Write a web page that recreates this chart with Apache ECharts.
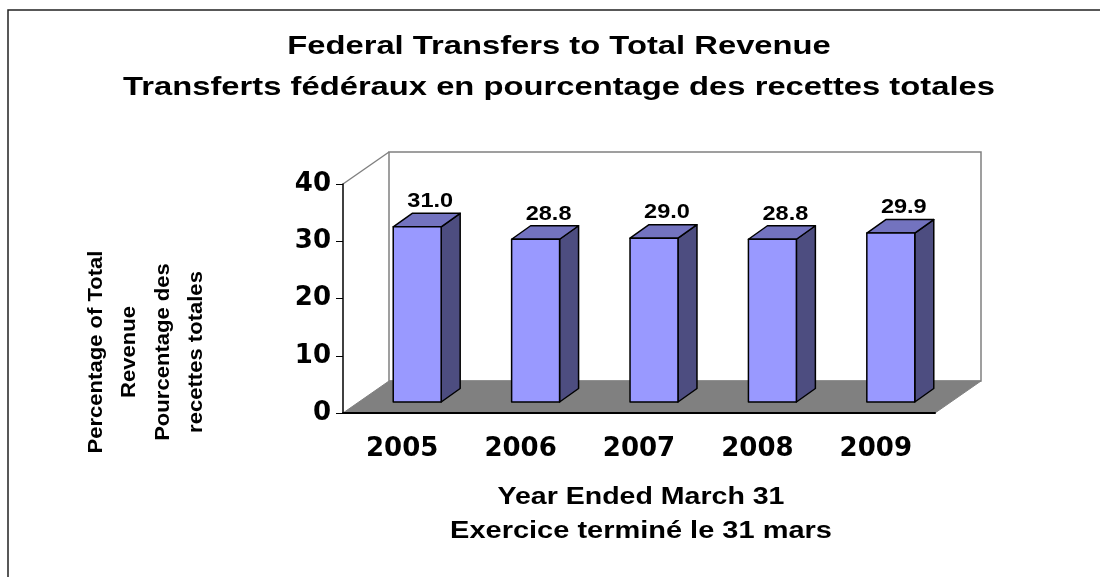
<!DOCTYPE html>
<html>
<head>
<meta charset="utf-8">
<style>
  html, body { margin: 0; padding: 0; background: #ffffff; }
  #chart { width: 1100px; height: 577px; }
</style>
<script src="https://cdn.jsdelivr.net/npm/echarts@6/dist/echarts.min.js"></script>
</head>
<body>
<div id="chart"></div>
<script>
// data
const years = ["2005", "2006", "2007", "2008", "2009"];
const transferShare = [31.0, 28.8, 29.0, 28.8, 29.9];
const yMin = 0;
const yMax = 40;
const yStep = 10;

const titleLines = [
  "Federal Transfers to Total Revenue",
  "Transferts fédéraux en pourcentage des recettes totales",
];
const xTitleLines = ["Year Ended March 31", "Exercice terminé le 31 mars"];
const yTitleLines = [
  "Percentage of Total",
  "Revenue",
  "Pourcentage des",
  "recettes totales",
];

// 3d look
const WALL_DX = 46;
const WALL_DY = -32;
const BAR_SHIFT_X = 15;
const BAR_SHIFT_Y = -11;
const BAR_DX = 19;
const BAR_DY = -13.5;
const BAR_SCALE = 0.987;
const FONT = "'Liberation Sans', Arial, sans-serif";

function renderFrame(params, api) {
  const cs = params.coordSys;
  const x0 = cs.x;
  const x1 = cs.x + cs.width;
  const yTop = cs.y;
  const yBot = cs.y + cs.height;
  return {
    type: "group",
    children: [
      {
        type: "polygon",
        shape: {
          points: [
            [x0 + WALL_DX, yTop + WALL_DY],
            [x1 + WALL_DX, yTop + WALL_DY],
            [x1 + WALL_DX, yBot + WALL_DY],
            [x0 + WALL_DX, yBot + WALL_DY],
          ],
        },
        style: { fill: "#ffffff", stroke: "#808080", lineWidth: 1.5 },
      },
      {
        type: "polygon",
        shape: {
          points: [
            [x0, yBot],
            [x1, yBot],
            [x1 + WALL_DX, yBot + WALL_DY],
            [x0 + WALL_DX, yBot + WALL_DY],
          ],
        },
        style: { fill: "#808080", stroke: "#808080", lineWidth: 1 },
      },
      {
        type: "line",
        shape: { x1: x0, y1: yTop, x2: x0 + WALL_DX, y2: yTop + WALL_DY },
        style: { stroke: "#808080", lineWidth: 1.5, fill: "none" },
      },
    ],
  };
}

function renderBar(params, api) {
  const idx = api.value(0);
  const val = api.value(1);
  const base = api.coord([idx, 0]);
  const top = api.coord([idx, val]);
  const band = api.size([1, 0])[0];
  const w = band * 0.405;
  const h = (base[1] - top[1]) * BAR_SCALE;
  const fx = base[0] + BAR_SHIFT_X - w / 2;
  const fy = base[1] + BAR_SHIFT_Y;
  const edge = { stroke: "#000000", lineWidth: 1.5, lineJoin: "round" };
  return {
    type: "group",
    children: [
      {
        type: "polygon",
        shape: {
          points: [
            [fx + w, fy],
            [fx + w + BAR_DX, fy + BAR_DY],
            [fx + w + BAR_DX, fy - h + BAR_DY],
            [fx + w, fy - h],
          ],
        },
        style: Object.assign({ fill: "#4d4d80" }, edge),
      },
      {
        type: "polygon",
        shape: {
          points: [
            [fx, fy - h],
            [fx + BAR_DX, fy - h + BAR_DY],
            [fx + w + BAR_DX, fy - h + BAR_DY],
            [fx + w, fy - h],
          ],
        },
        style: Object.assign({ fill: "#7373bf" }, edge),
      },
      {
        type: "rect",
        shape: { x: fx, y: fy - h, width: w, height: h },
        style: Object.assign({ fill: "#9999ff" }, edge),
      },
      {
        type: "text",
        x: fx + w / 2 + 13,
        y: fy - h + BAR_DY - 12,
        scaleX: 1.12,
        style: {
          text: val.toFixed(1),
          fontSize: 21,
          fontWeight: "bold",
          fontFamily: FONT,
          fill: "#000000",
          align: "center",
          verticalAlign: "middle",
          textAlign: "center",
          textVerticalAlign: "middle",
        },
      },
    ],
  };
}

function textEl(str, x, y, size, scaleX, rotation) {
  return {
    type: "text",
    x: x,
    y: y,
    rotation: rotation || 0,
    scaleX: scaleX,
    style: {
      text: str,
      fontSize: size,
      fontWeight: "bold",
      fontFamily: FONT,
      fill: "#000000",
      align: "center",
      verticalAlign: "middle",
      textAlign: "center",
      textVerticalAlign: "middle",
      lineHeight: 33.5,
    },
  };
}

const chart = echarts.init(document.getElementById("chart"));

const option = {
  animation: false,
  backgroundColor: "#ffffff",
  grid: { left: 343, right: 165, top: 184, bottom: 164 },
  xAxis: {
    type: "category",
    data: years,
    z: 5,
    axisLine: { lineStyle: { color: "#000000", width: 2 } },
    axisTick: { length: 6, lineStyle: { color: "#000000", width: 1 } },
    axisLabel: {
      margin: 23,
      color: "#000000",
      fontSize: 26,
      fontWeight: "bold",
      fontFamily: "DejaVu Sans",
    },
  },
  yAxis: {
    type: "value",
    min: yMin,
    max: yMax,
    interval: yStep,
    z: 5,
    splitLine: { show: false },
    axisLine: { show: true, lineStyle: { color: "#000000", width: 1.5 } },
    axisTick: { show: true, length: 7, lineStyle: { color: "#000000", width: 1 } },
    axisLabel: {
      margin: 12,
      color: "#000000",
      fontSize: 26,
      fontWeight: "bold",
      fontFamily: "DejaVu Sans",
    },
  },
  graphic: [
    {
      type: "polyline",
      shape: { points: [[8, 600], [8, 10], [1120, 10]] },
      style: { stroke: "#222222", lineWidth: 1.5, fill: "none" },
    },
    textEl(titleLines[0], 559, 47, 25, 1.31),
    textEl(titleLines[1], 559, 88.5, 25, 1.31),
    textEl(xTitleLines[0], 641, 497.5, 23, 1.24),
    textEl(xTitleLines[1], 641, 532, 23, 1.26),
    textEl(yTitleLines.join("\n"), 146, 352, 21, 1.05, Math.PI / 2),
  ],
  series: [
    {
      type: "custom",
      name: "frame",
      z: 1,
      silent: true,
      renderItem: renderFrame,
      data: [[0, 0]],
    },
    {
      type: "custom",
      name: "Transfers",
      z: 2,
      renderItem: renderBar,
      encode: { x: 0, y: 1 },
      data: years.map(function (y, i) {
        return [i, transferShare[i]];
      }),
    },
  ],
};

chart.setOption(option);
</script>
</body>
</html>
